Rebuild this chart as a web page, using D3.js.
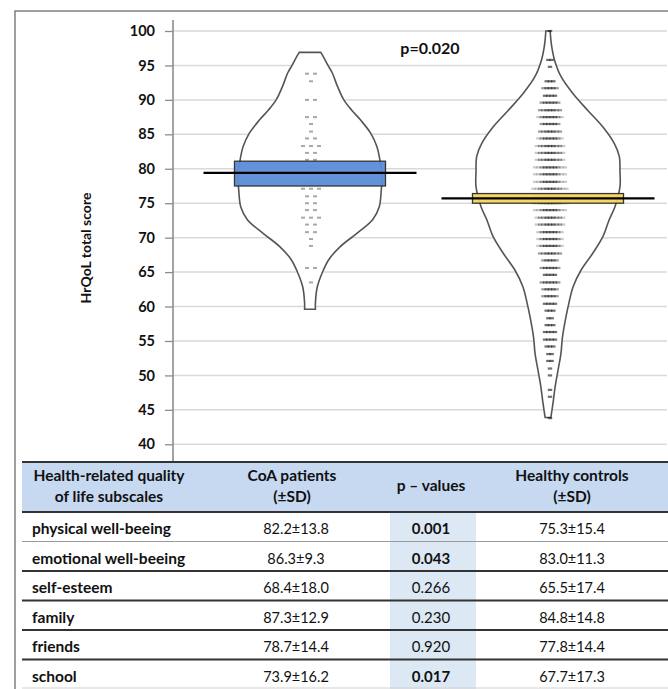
<!DOCTYPE html>
<html><head><meta charset="utf-8">
<script src="https://cdn.jsdelivr.net/npm/d3@7"></script>
<style>
body{margin:0;background:#fff}
svg{display:block}
text{font-family:Lato,"Open Sans","DejaVu Sans",sans-serif;fill:#111}
</style>
</head><body>
<svg id="c" width="668" height="689"></svg>
<script>
// ---------- data ----------
const groups = ["CoA patients", "Healthy controls"];
const yTicks = [40, 45, 50, 55, 60, 65, 70, 75, 80, 85, 90, 95, 100];
const pTotal = "p=0.020";

// violin outlines: score vs relative density (0..1)
const coaViolinScores  = [96.9, 96.0, 95.0, 93.9, 92.0, 90.0, 88.5, 87.1, 85.2, 83.2, 81.3, 79.0, 76.9, 74.4, 72.6, 70.7, 68.7, 66.8, 64.9, 62.8, 60.5, 59.6];
const coaViolinDensity = [0.15, 0.20, 0.25, 0.31, 0.38, 0.47, 0.58, 0.70, 0.84, 0.93, 0.97, 1.00, 0.99, 0.96, 0.87, 0.66, 0.42, 0.26, 0.17, 0.10, 0.075, 0.075];
const ctrlViolinScores  = [100, 98.7, 97.5, 95.8, 93.4, 91.0, 88.5, 86.1, 83.7, 81.8, 79.5, 77.4, 74.5, 72.6, 70.1, 67.7, 65.3, 62.9, 60.5, 58.0, 55.5, 53.2, 50.8, 48.4, 46.0, 43.9];
const ctrlViolinDensity = [0.03, 0.04, 0.055, 0.09, 0.18, 0.34, 0.55, 0.76, 0.92, 0.99, 1.00, 1.00, 0.93, 0.85, 0.76, 0.62, 0.46, 0.35, 0.29, 0.24, 0.20, 0.18, 0.14, 0.10, 0.07, 0.04];

// individual scores (dots)
const coaDotScores = [93.8, 93.8, 92.7, 90.0, 90.0, 87.5, 87.5, 86.5, 85.4, 84.4, 84.4, 83.3, 83.3, 83.3, 82.3, 82.3, 81.3, 81.3, 80.2,
  78.1, 78.1, 77.1, 77.1, 77.1, 76.0, 76.0, 75.0, 75.0, 74.0, 74.0, 72.9, 72.9, 72.9, 71.9, 71.9, 70.8, 70.8, 69.8, 68.8, 65.6, 65.6, 63.5];
const ctrlDotScores = [100.0, 95.8, 94.8, 92.7, 91.7, 90.6, 89.6, 88.5, 87.5, 86.5, 85.4, 84.4, 83.3, 82.3, 81.3, 80.2, 79.2, 78.1, 77.1, 76.0, 75.0,
  74.0, 72.9, 71.9, 70.8, 69.8, 68.8, 67.7, 66.7, 65.6, 64.6, 63.5, 62.5, 61.5, 60.4, 59.4, 58.3, 57.3, 56.3, 55.2, 54.2, 53.1, 52.1, 51.0, 50.0, 47.9, 46.9, 43.8];
const ctrlDotCounts = [1, 2, 1, 3, 5, 4, 6, 7, 8, 6, 7, 8, 9, 9, 9, 10, 10, 10, 11, 11, 11,
  10, 9, 9, 8, 8, 8, 7, 5, 6, 4, 6, 5, 5, 4, 3, 2, 3, 4, 4, 3, 2, 2, 1, 1, 1, 1, 1];

// mean and confidence interval
const groupMeans = [79.4, 75.7];
const ciLow  = [77.5, 75.0];
const ciHigh = [81.1, 76.4];
const boxColors = ["#5b8dd6", "#f7d45e"];

// table
const tableHeader1 = ["Health-related quality", "CoA patients", "p \u2013 values", "Healthy controls"];
const tableHeader2 = ["of life subscales", "(\u00b1SD)", "", "(\u00b1SD)"];
const subscales = ["physical well-beeing", "emotional well-beeing", "self-esteem", "family", "friends", "school"];
const coaValues  = ["82.2\u00b113.8", "86.3\u00b19.3", "68.4\u00b118.0", "87.3\u00b112.9", "78.7\u00b114.4", "73.9\u00b116.2"];
const pValues    = ["0.001", "0.043", "0.266", "0.230", "0.920", "0.017"];
const pBold      = [true, true, false, false, false, true];
const ctrlValues = ["75.3\u00b115.4", "83.0\u00b111.3", "65.5\u00b117.4", "84.8\u00b114.8", "77.8\u00b114.4", "67.7\u00b117.3"];

// ---------- drawing ----------
const svg = d3.select("#c");
const y = d3.scaleLinear([40, 100], [444.3, 31]);
const x = d3.scaleBand(groups, [191, 667]);
const cx = g => x(g) + x.bandwidth() / 2;
const w = d3.scaleLinear([0, 1], [0, 72]);
const axisX = 173, tableTop = 462;
const labelSize = 15.5, numSize = 14.5;

// outer frame
svg.append("rect").attr("x", 15).attr("y", 11).attr("width", 670).attr("height", 700)
  .attr("fill", "none").attr("stroke", "#808080").attr("stroke-width", 1.5);

// gridlines
svg.append("g").selectAll("line").data(yTicks).join("line")
  .attr("x1", axisX).attr("x2", 667).attr("y1", d => y(d)).attr("y2", d => y(d))
  .attr("stroke", "#d9d9d9").attr("stroke-width", 1.5);

// y axis
const ax = svg.append("g").attr("transform", `translate(${axisX},0)`)
  .call(d3.axisLeft(y).tickValues(yTicks).tickSize(8).tickPadding(10));
ax.select(".domain").remove();
ax.selectAll(".tick line").attr("stroke", "#8c8c8c").attr("stroke-width", 1.3);
ax.selectAll(".tick text").attr("font-family", "Lato").attr("font-size", 14.5).attr("font-weight", 700).attr("fill", "#111");
svg.append("line").attr("x1", axisX).attr("x2", axisX).attr("y1", y(101.6)).attr("y2", tableTop)
  .attr("stroke", "#8c8c8c").attr("stroke-width", 1.6);

// y title
svg.append("text").attr("transform", "translate(91,248) rotate(-90)")
  .attr("text-anchor", "middle").attr("font-size", 14).attr("font-weight", 700).text("HrQoL total score");

// violins
const violins = [
  {g: groups[0], s: coaViolinScores, d: coaViolinDensity},
  {g: groups[1], s: ctrlViolinScores, d: ctrlViolinDensity}
];
violins.forEach(v => {
  const pts = v.s.map((s, i) => [s, v.d[i]]);
  const area = d3.area()
    .y(p => y(p[0]))
    .x0(p => cx(v.g) - w(p[1]))
    .x1(p => cx(v.g) + w(p[1]))
    .curve(d3.curveCatmullRom.alpha(0.5));
  svg.append("path").attr("d", area(pts)).attr("fill", "#fff")
    .attr("stroke", "#555").attr("stroke-width", 1.6);
});

// CoA dots
const coaRows = d3.rollups(coaDotScores, a => a.length, d => d);
coaRows.forEach(([s, n]) => {
  for (let k = 0; k < n; k++) {
    const off = (k - (n - 1) / 2) * 8;
    svg.append("rect").attr("x", cx(groups[0]) + 1 + off - 2).attr("y", y(s) - 1)
      .attr("width", 4).attr("height", 2).attr("fill", "#a8a8a8");
  }
});
// control dots
ctrlDotScores.forEach((s, i) => {
  const n = ctrlDotCounts[i];
  for (let k = 0; k < n; k++) {
    const rel = Math.abs(k - (n - 1) / 2);
    const off = (k - (n - 1) / 2) * 3.3;
    svg.append("rect").attr("x", cx(groups[1]) + 2 + off - 2.2).attr("y", y(s) - 1.1)
      .attr("width", 4.4).attr("height", 2.2).attr("fill", "#111")
      .attr("opacity", rel < 2 ? 0.6 : rel < 3.5 ? 0.42 : 0.22);
  }
});

// p text
svg.append("text").attr("x", 430).attr("y", 54).attr("text-anchor", "middle")
  .attr("font-size", 16).attr("font-weight", 700).text(pTotal);

// CI boxes and mean lines
groups.forEach((g, i) => {
  svg.append("rect").attr("x", cx(g) - 75.5).attr("width", 151)
    .attr("y", y(ciHigh[i])).attr("height", y(ciLow[i]) - y(ciHigh[i]))
    .attr("fill", boxColors[i]).attr("opacity", 0.95)
    .attr("stroke", "#2b2b2b").attr("stroke-width", 1.3);
  svg.append("line").attr("x1", cx(g) - 106.5).attr("x2", cx(g) + 106.5)
    .attr("y1", y(groupMeans[i])).attr("y2", y(groupMeans[i]))
    .attr("stroke", "#000").attr("stroke-width", 2.4);
});

// ---------- table ----------
const tLeft = 22, tRight = 668, headBottom = 512;
const colCenters = [109, 292, 431, 572];
const pColL = 390, pColR = 476;
const rows = d3.scaleBand(subscales, [headBottom, 689]);

svg.append("rect").attr("x", tLeft).attr("y", tableTop).attr("width", tRight - tLeft).attr("height", headBottom - tableTop)
  .attr("fill", "#c6d9f1");
svg.append("rect").attr("x", pColL).attr("y", headBottom).attr("width", pColR - pColL).attr("height", 689 - headBottom)
  .attr("fill", "#dde8f5");

// lines
svg.append("line").attr("x1", tLeft).attr("x2", tRight).attr("y1", tableTop).attr("y2", tableTop)
  .attr("stroke", "#333").attr("stroke-width", 2);
svg.append("line").attr("x1", tLeft).attr("x2", tRight).attr("y1", headBottom).attr("y2", headBottom)
  .attr("stroke", "#333").attr("stroke-width", 2);
subscales.slice(1).forEach((s, i) => {
  svg.append("line").attr("x1", tLeft).attr("x2", tRight).attr("y1", rows(s)).attr("y2", rows(s))
    .attr("stroke", i === 0 ? "#9a9a9a" : "#333").attr("stroke-width", i === 0 ? 1.2 : 2);
});
svg.append("line").attr("x1", tLeft).attr("x2", tRight).attr("y1", 688).attr("y2", 688)
  .attr("stroke", "#d0d0d0").attr("stroke-width", 1);

// header texts
tableHeader1.forEach((t, i) => {
  const single = tableHeader2[i] === "";
  svg.append("text").attr("x", colCenters[i]).attr("y", single ? 491 : 481)
    .attr("text-anchor", "middle").attr("font-size", labelSize).attr("font-weight", 700).text(t);
  if (!single) svg.append("text").attr("x", colCenters[i]).attr("y", 502)
    .attr("text-anchor", "middle").attr("font-size", labelSize).attr("font-weight", 700).text(tableHeader2[i]);
});

// body
subscales.forEach((s, i) => {
  const by = rows(s) + 22;
  svg.append("text").attr("x", 32).attr("y", by).attr("font-size", labelSize).attr("font-weight", 700).text(s);
  svg.append("text").attr("x", colCenters[1] + 4).attr("y", by).attr("text-anchor", "middle").attr("font-size", numSize).text(coaValues[i]);
  svg.append("text").attr("x", colCenters[2]).attr("y", by).attr("text-anchor", "middle").attr("font-size", numSize + 0.5)
    .attr("font-weight", pBold[i] ? 700 : 400).text(pValues[i]);
  svg.append("text").attr("x", colCenters[3]).attr("y", by).attr("text-anchor", "middle").attr("font-size", numSize).text(ctrlValues[i]);
});
</script>
</body></html>
